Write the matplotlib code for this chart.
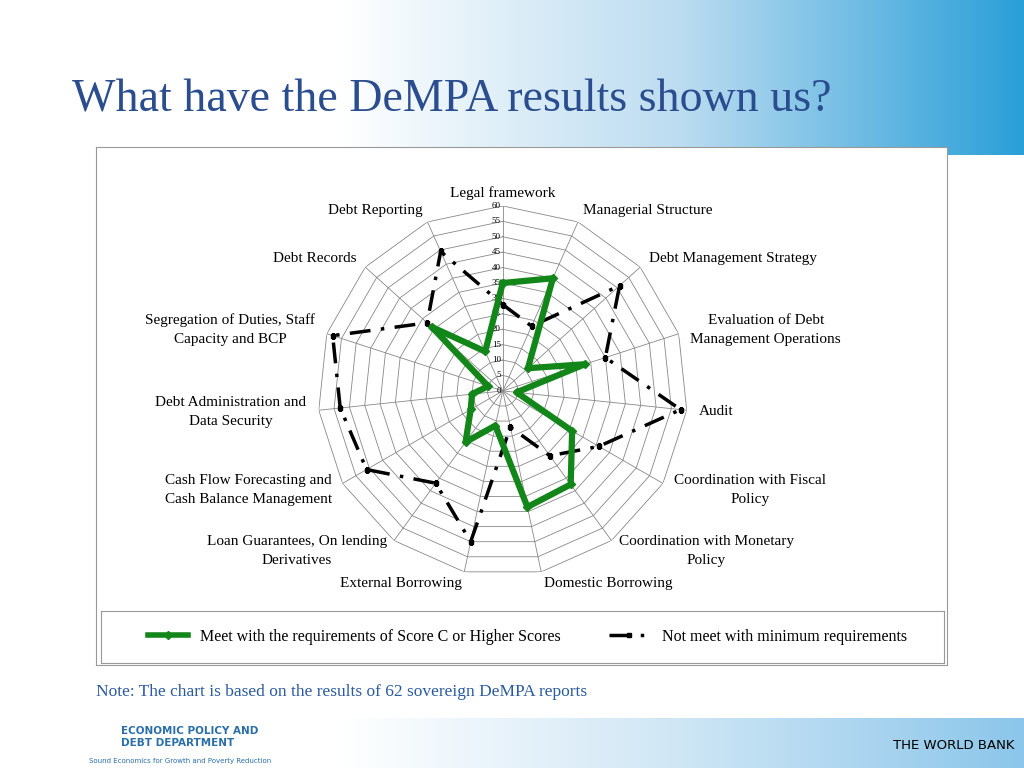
import numpy as np
import matplotlib
matplotlib.use("Agg")
import matplotlib.pyplot as plt
from matplotlib.lines import Line2D
from matplotlib.colors import LinearSegmentedColormap

categories = ["Legal framework", "Managerial Structure", "Debt Management Strategy",
              "Evaluation of Debt\nManagement Operations", "Audit", "Coordination with Fiscal\nPolicy",
              "Coordination with Monetary\nPolicy", "Domestic Borrowing", "External Borrowing",
              "Loan Guarantees, On lending\nDerivatives", "Cash Flow Forecasting and\nCash Balance Management",
              "Debt Administration and\nData Security", "Segregation of Duties, Staff\nCapacity and BCP",
              "Debt Records", "Debt Reporting"]
meet = [35, 40, 11, 28, 4.5, 26, 37.5, 38.5, 11.5, 20.5, 12, 10, 5, 31, 14]
not_meet = [28, 23, 51, 35, 58, 36, 26, 12, 50, 37, 51, 53, 58, 33, 49.5]
ticks = list(range(0, 65, 5))

fig = plt.figure(figsize=(10.24, 7.68), dpi=100)
fig.patch.set_facecolor("white")

g = np.linspace(0, 1, 256)[None, :]
hdr = fig.add_axes([0, 1-155/768, 1, 155/768]); hdr.axis("off")
cm = LinearSegmentedColormap.from_list("h", ["#ffffff", "#ffffff", "#bcdcf0", "#2a9fd8"])
hdr.imshow(g, aspect="auto", cmap=cm, extent=[0, 1, 0, 1])
hdr.set_xlim(0, 1); hdr.set_ylim(0, 1)
hdr.text(0.07, 1-100/155, "What have the DeMPA results shown us?", fontsize=33, color="#2a4d8f",
         family="Liberation Serif", va="center", transform=hdr.transAxes)
ftr = fig.add_axes([0, 0, 1, 0.065]); ftr.axis("off")
cm2 = LinearSegmentedColormap.from_list("f", ["#ffffff", "#ffffff", "#cfe6f5", "#8cc6ea"])
ftr.imshow(g, aspect="auto", cmap=cm2, extent=[0, 1, 0, 1]); ftr.set_xlim(0, 1); ftr.set_ylim(0, 1)
ftr.text(0.118, 0.62, "ECONOMIC POLICY AND\nDEBT DEPARTMENT", fontsize=7.5, color="#2a6fa8", weight="bold", va="center")
ftr.text(0.087, 0.15, "Sound Economics for Growth and Poverty Reduction", fontsize=5, color="#2a6fa8", va="center")
ftr.text(0.872, 0.45, "THE WORLD BANK", fontsize=9.5, color="black", va="center")

frame = fig.add_axes([96/1024, 1-665/768, 851/1024, 518/768])
frame.set_xticks([]); frame.set_yticks([]); frame.set_facecolor("white")
for sp in frame.spines.values():
    sp.set_color("#999999"); sp.set_linewidth(0.8)
leg = fig.add_axes([101/1024, 1-663/768, 843/1024, 52/768])
leg.set_xticks([]); leg.set_yticks([]); leg.patch.set_alpha(0)
for sp in leg.spines.values():
    sp.set_color("#999999"); sp.set_linewidth(0.8)
fig.text(96/1024, 1-692/768, "Note: The chart is based on the results of 62 sovereign DeMPA reports",
         fontsize=12.5, color="#2a5a9f", family="Liberation Serif", va="center")

ax = fig.add_axes([0.491-0.1807, 0.491-0.2409, 0.3613, 0.4818], projection="polar")
ax.set_theta_zero_location("N"); ax.set_theta_direction(-1)
n = len(categories)
ang = np.arange(n) * 2*np.pi/n
ax.set_ylim(0, 60)
ax.grid(False); ax.spines["polar"].set_visible(False)
ax.set_xticks([]); ax.set_yticks([])
ax.patch.set_alpha(0)
ac = np.append(ang, ang[0])
for t in ticks[1:]:
    ax.plot(ac, [t]*(n+1), color="#888888", lw=0.6, zorder=1)
for a in ang:
    ax.plot([a, a], [0, 60], color="#888888", lw=0.6, zorder=1)
for t in ticks:
    ax.text(0, t, str(t), fontsize=6.5, family="Liberation Serif", ha="right", va="center",
            transform=ax.transData + matplotlib.transforms.ScaledTranslation(-0.02, 0, fig.dpi_scale_trans))
for a, c in zip(ang, categories):
    s = np.sin(a)
    ha = "left" if s > 0.15 else ("right" if s < -0.15 else "center")
    ax.text(a, 64, c, ha=ha, va="center", fontsize=11, family="Liberation Serif",
            multialignment="center", linespacing=1.6)
ax.plot(ac, np.append(meet, meet[0]), color="#13861a", lw=4.5, marker="D", ms=4, zorder=3)
ax.plot(ac, np.append(not_meet, not_meet[0]), color="black", lw=2.5, ls=(0, (6, 3, 1, 3)),
        marker="s", ms=3.5, zorder=2)

h1 = Line2D([], [], color="#13861a", lw=4, marker="D", ms=4)
h2 = Line2D([], [], color="black", lw=2.5, ls=(0, (6, 3, 1, 3)), marker="s", ms=3)
fig.legend([h1, h2], ["Meet with the requirements of Score C or Higher Scores", "Not meet with minimum requirements"],
           loc="center", bbox_to_anchor=(0.515, 1-637/768), ncol=2, frameon=False,
           prop={"family": "Liberation Serif", "size": 11.5}, columnspacing=3, handlelength=2.5)
fig.savefig("out.png", dpi=100)
